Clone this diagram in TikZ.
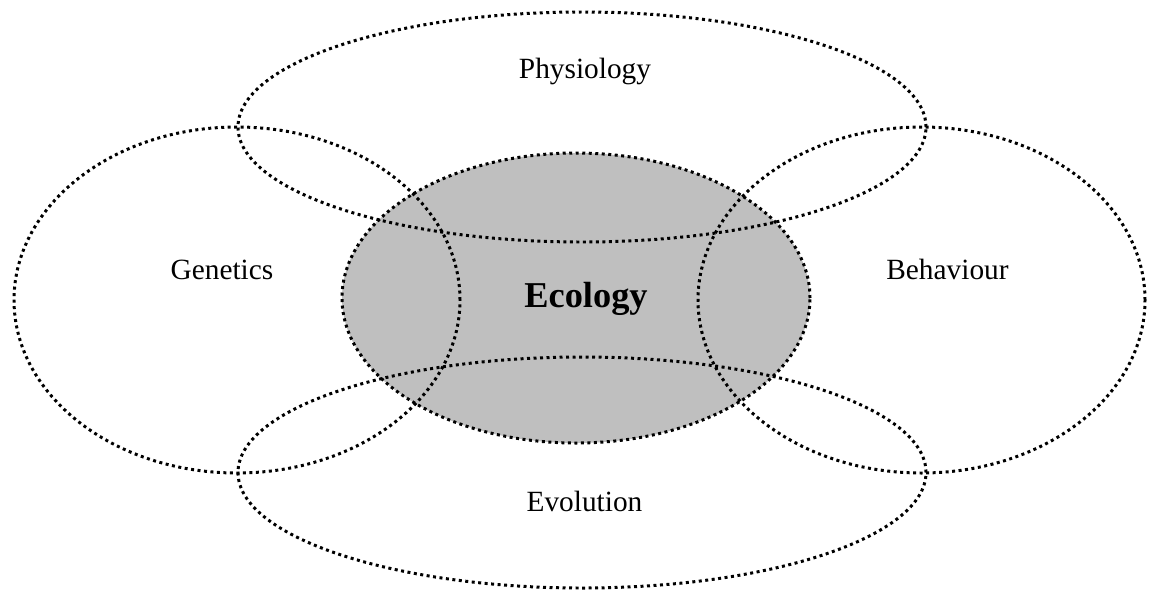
\documentclass[tikz,border=0pt]{standalone}
\usepackage{fontspec}
\setmainfont{Liberation Serif}
\usepackage{tikz}

\tikzset{
  field/.style={line width=1.7pt,dash pattern=on 1.7pt off 2pt},
  fieldname/.style={anchor=base,font=\fontsize{16.7}{20}\selectfont},
}

\begin{document}
\begin{tikzpicture}
			\useasboundingbox(0,0)rectangle(23.04,-11.8);
			\fill[black!25](11.52,-5.96)ellipse[x radius=4.68cm,y radius=2.90cm];
			\draw[field](11.52,-5.96)ellipse[x radius=4.68cm,y radius=2.90cm];
			\draw[field](11.64,-2.54)ellipse[x radius=6.88cm,y radius=2.30cm];
			\draw[field](11.64,-9.45)ellipse[x radius=6.88cm,y radius=2.31cm];
			\draw[field](4.74,-6.00)ellipse[x radius=4.46cm,y radius=3.46cm];
			\draw[field](18.43,-6.00)ellipse[x radius=4.47cm,y radius=3.46cm];
			\node[fieldname](phys)at(11.70,-1.56){Physiology};
			\node[fieldname](gen)at(4.44,-5.58){Genetics};
			\node[fieldname](beh)at(18.95,-5.58){Behaviour};
			\node[fieldname](evo)at(11.69,-10.22){Evolution};
			\node[anchor=base,font=\fontsize{20.7}{24}\selectfont\bfseries](eco)at(11.72,-6.14){Ecology};
		\end{tikzpicture}
\end{document}
